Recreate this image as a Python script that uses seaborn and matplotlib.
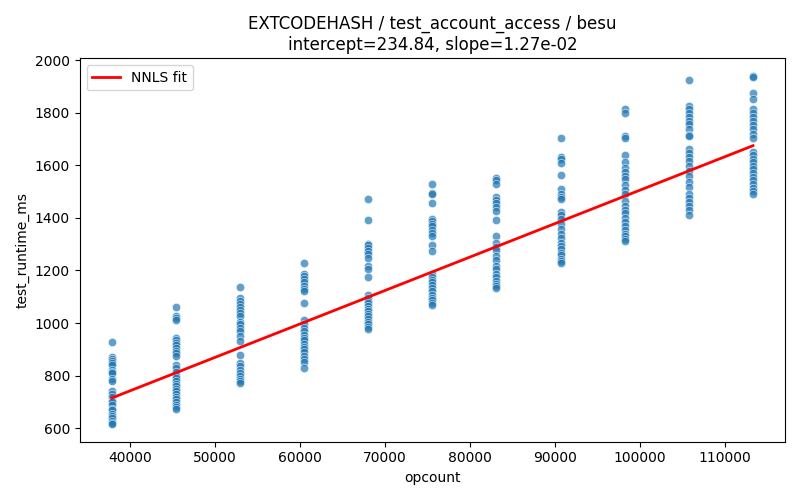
import numpy as np
import pandas as pd
import matplotlib
matplotlib.use("Agg")
import matplotlib.pyplot as plt
import seaborn as sns

# opcount levels (one column of runs per level)
opcounts = [37800, 45355, 52910, 60465, 68020, 75575, 83130, 90685, 98240, 105795, 113350]

# runtimes, one list per opcount level
col1 = [928, 872, 865, 855, 848, 840, 822, 815, 810, 788, 780, 740, 730, 720, 705,
        698, 690, 675, 668, 655, 645, 638, 628, 620, 615]
col2 = [1062, 1028, 1020, 1012, 945, 935, 925, 915, 905, 895, 885, 875, 842, 828, 812,
        800, 790, 780, 770, 760, 750, 740, 730, 720, 710, 700, 690, 680, 672]
col3 = [1137, 1095, 1085, 1072, 1060, 1050, 1038, 1025, 1005, 995, 980, 968, 952, 932,
        878, 848, 835, 822, 810, 800, 788, 778, 772]
col4 = [1230, 1188, 1180, 1168, 1155, 1142, 1130, 1120, 1078, 1012, 995, 982, 968, 955,
        945, 935, 922, 910, 900, 888, 875, 862, 850, 828]
col5 = [1472, 1390, 1302, 1295, 1285, 1275, 1262, 1248, 1215, 1205, 1175, 1105, 1095,
        1085, 1075, 1065, 1055, 1045, 1035, 1025, 1015, 1005, 995, 985, 978]
col6 = [1527, 1495, 1492, 1455, 1395, 1388, 1378, 1368, 1355, 1342, 1330, 1295, 1275,
        1185, 1175, 1165, 1155, 1145, 1135, 1120, 1108, 1095, 1088, 1078, 1068]
col7 = [1552, 1545, 1530, 1478, 1468, 1458, 1440, 1425, 1390, 1330, 1305, 1290, 1278,
        1255, 1240, 1215, 1205, 1185, 1175, 1160, 1150, 1140, 1135]
col8 = [1702, 1632, 1622, 1610, 1562, 1510, 1492, 1480, 1472, 1422, 1410, 1395, 1375,
        1358, 1340, 1325, 1305, 1292, 1280, 1268, 1258, 1245, 1235, 1228]
col9 = [1815, 1800, 1712, 1702, 1640, 1612, 1590, 1575, 1560, 1548, 1525, 1505, 1490,
        1465, 1445, 1430, 1420, 1400, 1385, 1370, 1355, 1340, 1330, 1320, 1312]
col10 = [1925, 1825, 1815, 1800, 1785, 1768, 1755, 1738, 1715, 1710, 1662, 1648, 1632,
         1615, 1598, 1578, 1560, 1535, 1518, 1492, 1475, 1460, 1445, 1430, 1412]
col11 = [1940, 1935, 1875, 1850, 1812, 1800, 1785, 1768, 1752, 1738, 1720, 1705, 1650,
         1638, 1625, 1612, 1598, 1585, 1570, 1555, 1545, 1530, 1515, 1502, 1492]

intercept = 234.84
slope = 1.27e-02

columns = [col1, col2, col3, col4, col5, col6, col7, col8, col9, col10, col11]
rows = []
for oc, vals in zip(opcounts, columns):
    for v in vals:
        rows.append((oc, v))
df = pd.DataFrame(rows, columns=["opcount", "test_runtime_ms"])

fig, ax = plt.subplots(figsize=(8, 5), dpi=100)
sns.scatterplot(data=df, x="opcount", y="test_runtime_ms", alpha=0.7, ax=ax)

xs = np.array([min(opcounts), max(opcounts)])
ax.plot(xs, intercept + slope * xs, color="red", linewidth=2, label="NNLS fit")

ax.set_title("EXTCODEHASH / test_account_access / besu\n"
             f"intercept={intercept:.2f}, slope={slope:.2e}")
ax.legend(loc="upper left")
fig.tight_layout()
fig.savefig("out.png")
